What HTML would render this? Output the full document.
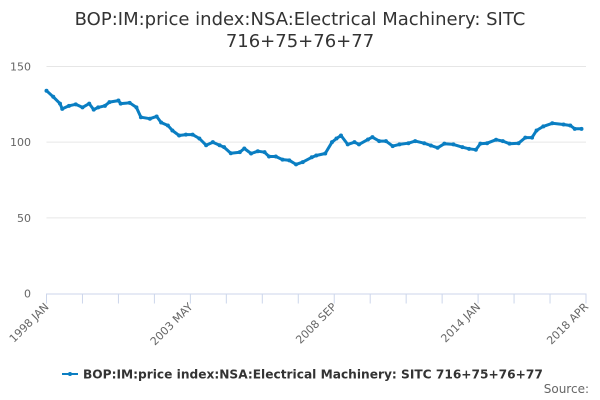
<!DOCTYPE html>
<html><head><meta charset="utf-8"><style>
body{margin:0;background:#fff;}
svg{display:block;font-family:"DejaVu Sans","Liberation Sans",sans-serif;}
</style></head><body>
<svg id="chart" width="600" height="400">
<text x="300" y="25" text-anchor="middle" font-size="18" fill="#333">BOP:IM:price index:NSA:Electrical Machinery: SITC</text>
<text x="300" y="47" text-anchor="middle" font-size="18" fill="#333">716+75+76+77</text>
<g id="grid"></g><g id="xaxis"></g><g id="series"></g>
<g>
<line x1="62" y1="374" x2="78" y2="374" stroke="#0a7ec2" stroke-width="2"/>
<circle cx="70" cy="374" r="2" fill="#0a7ec2"/>
<text x="83" y="378.5" font-size="12.2" font-weight="bold" fill="#333">BOP:IM:price index:NSA:Electrical Machinery: SITC 716+75+76+77</text>
</g>
<text x="589" y="393" text-anchor="end" font-size="12" fill="#666">Source:</text>
</svg>
<script>
const months=[0,3,6,7,10,13,16,19,21,23,26,28,32,33,37,40,42,46,49,51,54,56,59,62,65,68,71,74,77,79,82,86,88,91,94,97,99,102,105,108,111,114,118,120,124,127,129,131,134,137,139,143,145,148,151,154,157,161,164,168,171,174,177,181,185,188,191,193,196,200,203,206,210,213,216,218,221,225,230,233,235,238];
const values=[134,130,125.5,122,124,125,123,125.5,121.5,123,124,126.5,127.5,125.5,126,123,116.5,115.5,117,113,111,107.7,104.4,105,105,102.4,98,100,98,96.7,92.7,93.4,95.8,92.5,94,93.4,90.5,90.5,88.5,88,85.3,86.8,90,91.2,92.5,100,102.4,104.4,98.5,100,98.5,101.8,103.3,100.7,100.7,97.4,98.5,99.3,100.7,99.3,97.8,96.3,99,98.5,96.7,95.6,95,99,99.3,101.6,100.7,99,99.3,103,103,107.7,110.4,112.5,111.7,111,108.8,108.8];
const yTicks=[0,50,100,150];
const xTickLabels=["1998 JAN","2003 MAY","2008 SEP","2014 JAN","2018 APR"];
const NS="http://www.w3.org/2000/svg";
const x0=46.5,x1=586,y0=293.5,y1=66.5;
function xs(m){return x0+(x1-x0)*m/240;}
function ys(v){return y0-(y0-y1)*v/150;}
function mk(tag,attrs,parent){const e=document.createElementNS(NS,tag);for(const k in attrs)e.setAttribute(k,attrs[k]);parent.appendChild(e);return e;}
const grid=document.getElementById('grid');
yTicks.forEach(t=>{
  if(t>0){const l=mk('line',{x1:x0,x2:586,y1:ys(t),y2:ys(t),stroke:'#e6e6e6','stroke-width':1},grid);
  
  }
  const tx=mk('text',{x:31,y:ys(t)+4,'text-anchor':'end','font-size':11,fill:'#666'},grid);
  tx.textContent=t;
  
  
});
const xa=document.getElementById('xaxis');
const al=mk('line',{x1:x0,x2:586,y1:y0+0.5,y2:y0+0.5,stroke:'#ccd6eb','stroke-width':1},xa);


for(let k=0;k<=15;k++){
  const x=xs(k*16);
  const tk=mk('line',{x1:x,x2:x,y1:y0,y2:y0+10,stroke:'#ccd6eb','stroke-width':1},xa);
  
  
}
xTickLabels.forEach((lab,i)=>{
  const xx=xs(Math.min(i*64,240));
  const t=mk('text',{x:xx+3,y:y0+14,'text-anchor':'end','font-size':11,fill:'#666',transform:`rotate(-45 ${xx+3} ${y0+14})`},xa);
  t.textContent=lab;
  
  
});
const sg=document.getElementById('series');
const d=months.map((m,i)=>(i?'L':'M')+xs(m).toFixed(1)+' '+ys(values[i]).toFixed(1)).join(' ');
const p=mk('path',{d:d,fill:'none',stroke:'#0a7ec2','stroke-width':3,'stroke-linejoin':'round'},sg);


months.forEach((m,i)=>{
  const c=mk('circle',{cx:xs(m),cy:ys(values[i]),r:2,fill:'#0a7ec2'},sg);
  
  
});
</script>
</body></html>
